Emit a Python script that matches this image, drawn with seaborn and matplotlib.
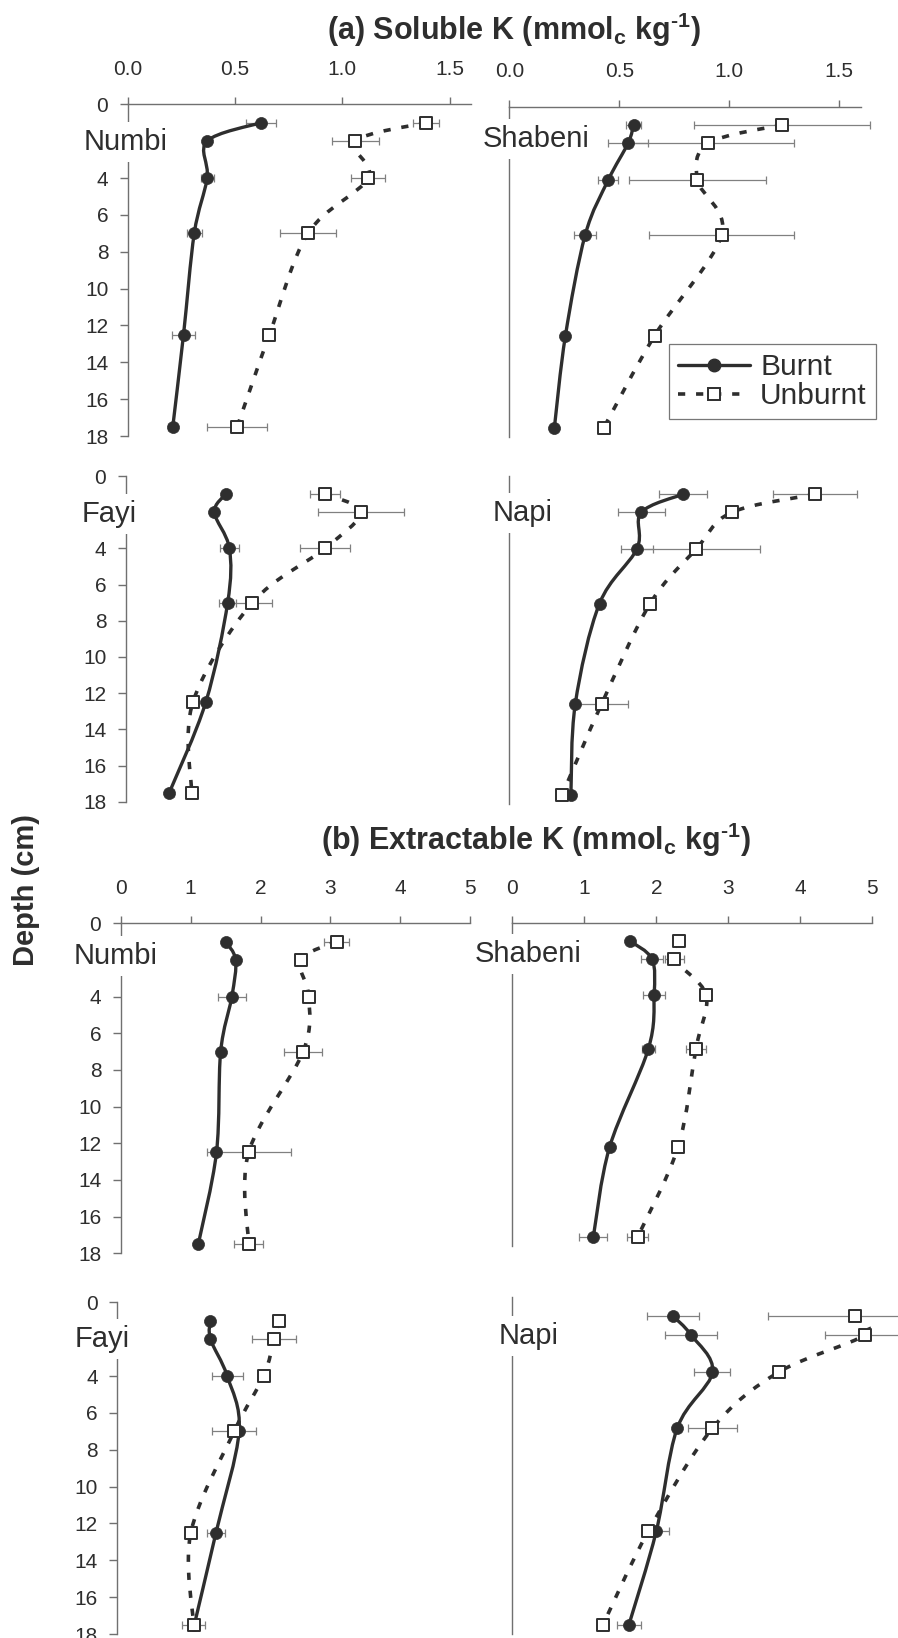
import numpy as np
import matplotlib
matplotlib.use("Agg")
import matplotlib.pyplot as plt
from matplotlib.path import Path
from matplotlib.patches import PathPatch
from matplotlib.lines import Line2D
import seaborn as sns

# ---------------------------------------------------------------- data
depth = [1, 2, 4, 7, 12.5, 17.5]
depth_ticks = [0, 2, 4, 6, 8, 10, 12, 14, 16, 18]
depth_ticklabels = ["0", "", "4", "6", "8", "10", "12", "14", "16", "18"]
sol_ticks = [0.0, 0.5, 1.0, 1.5]
ext_ticks = [0, 1, 2, 3, 4, 5]
series_names = ["Burnt", "Unburnt"]

# (a) soluble K, mmolc/kg : means and standard errors
sol_numbi_burnt = [0.62, 0.37, 0.37, 0.31, 0.26, 0.21]
sol_numbi_burnt_se = [0.07, 0.0, 0.03, 0.035, 0.055, 0.02]
sol_numbi_unburnt = [1.39, 1.06, 1.12, 0.84, 0.66, 0.51]
sol_numbi_unburnt_se = [0.06, 0.11, 0.08, 0.13, 0.02, 0.14]

sol_shabeni_burnt = [0.565, 0.54, 0.45, 0.345, 0.255, 0.205]
sol_shabeni_burnt_se = [0.035, 0.09, 0.045, 0.05, 0.0, 0.0]
sol_shabeni_unburnt = [1.24, 0.905, 0.855, 0.965, 0.66, 0.43]
sol_shabeni_unburnt_se = [0.40, 0.39, 0.31, 0.33, 0.02, 0.0]

sol_fayi_burnt = [0.467, 0.413, 0.483, 0.475, 0.373, 0.203]
sol_fayi_burnt_se = [0.0, 0.0, 0.043, 0.04, 0.015, 0.02]
sol_fayi_unburnt = [0.928, 1.095, 0.928, 0.59, 0.313, 0.307]
sol_fayi_unburnt_se = [0.07, 0.20, 0.117, 0.091, 0.0, 0.0]

sol_napi_burnt = [0.79, 0.60, 0.58, 0.41, 0.30, 0.28]
sol_napi_burnt_se = [0.11, 0.107, 0.072, 0.01, 0.01, 0.0]
sol_napi_unburnt = [1.39, 1.01, 0.85, 0.64, 0.42, 0.24]
sol_napi_unburnt_se = [0.19, 0.01, 0.29, 0.01, 0.12, 0.01]

# (b) extractable K, mmolc/kg
ext_numbi_burnt = [1.50, 1.645, 1.59, 1.43, 1.37, 1.11]
ext_numbi_burnt_se = [0.0, 0.0, 0.20, 0.03, 0.0, 0.0]
ext_numbi_unburnt = [3.09, 2.575, 2.69, 2.61, 1.83, 1.83]
ext_numbi_unburnt_se = [0.18, 0.06, 0.0, 0.27, 0.60, 0.21]

ext_shabeni_burnt = [1.64, 1.94, 1.97, 1.89, 1.35, 1.125]
ext_shabeni_burnt_se = [0.0, 0.157, 0.15, 0.093, 0.0, 0.197]
ext_shabeni_unburnt = [2.32, 2.25, 2.69, 2.55, 2.30, 1.74]
ext_shabeni_unburnt_se = [0.02, 0.13, 0.03, 0.144, 0.02, 0.15]

ext_fayi_burnt = [1.33, 1.33, 1.57, 1.74, 1.41, 1.10]
ext_fayi_burnt_se = [0.0, 0.0, 0.22, 0.0, 0.13, 0.0]
ext_fayi_unburnt = [2.31, 2.24, 2.09, 1.67, 1.05, 1.09]
ext_fayi_unburnt_se = [0.0, 0.31, 0.0, 0.31, 0.02, 0.16]

ext_napi_burnt = [2.23, 2.48, 2.78, 2.29, 2.00, 1.62]
ext_napi_burnt_se = [0.36, 0.36, 0.25, 0.05, 0.17, 0.17]
ext_napi_unburnt = [4.76, 4.90, 3.70, 2.78, 1.89, 1.26]
ext_napi_unburnt_se = [1.21, 0.56, 0.0, 0.34, 0.0, 0.0]

# ---------------------------------------------------------------- style
sns.set_theme(style="white")
plt.rcParams["font.family"] = ["Liberation Sans", "DejaVu Sans"]
plt.rcParams["mathtext.fontset"] = "custom"
plt.rcParams["mathtext.rm"] = "Liberation Sans:bold"
plt.rcParams["mathtext.it"] = "Liberation Sans:bold"
plt.rcParams["mathtext.bf"] = "Liberation Sans:bold"

INK = "#2e2e2e"
AXIS = "#707070"
ERR = "#808080"
DASH = (0, (2.0, 3.0))
W, H = 898, 1638

fig = plt.figure(figsize=(W / 100, H / 100), dpi=100)
fig.patch.set_facecolor("white")


def smooth_path(x, y):
    """Smoothed (Catmull-Rom style Bezier) path through the points."""
    pts = np.column_stack([x, y]).astype(float)
    n = len(pts)
    verts = [pts[0]]
    codes = [Path.MOVETO]
    for i in range(n - 1):
        p0 = pts[i - 1] if i > 0 else pts[i]
        p1, p2 = pts[i], pts[i + 1]
        p3 = pts[i + 2] if i + 2 < n else pts[i + 1]
        verts += [p1 + (p2 - p0) / 6.0, p2 - (p3 - p1) / 6.0, p2]
        codes += [Path.CURVE4] * 3
    return Path(verts, codes)


def panel(rect, xmax, xticks, xfmt, top_axis, left_labels,
          burnt, burnt_se, unburnt, unburnt_se, site, site_xy):
    left, top, right, bottom = rect
    ax = fig.add_axes([left / W, 1 - bottom / H, (right - left) / W, (bottom - top) / H])
    ax.set_facecolor("none")
    ax.set_xlim(0, xmax)
    ax.set_ylim(18, 0)

    for s in ("right", "bottom"):
        ax.spines[s].set_visible(False)
    ax.spines["left"].set_color(AXIS)
    ax.spines["left"].set_linewidth(1.0)
    if top_axis:
        ax.spines["top"].set_color(AXIS)
        ax.spines["top"].set_linewidth(1.0)
        ax.xaxis.tick_top()
        ax.set_xticks(xticks)
        ax.set_xticklabels([xfmt.format(t) for t in xticks])
        ax.tick_params(axis="x", direction="out", length=5, width=1.0,
                       color=AXIS, pad=13.5, labelsize=15, labelcolor=INK,
                       top=True, bottom=False)
    else:
        ax.spines["top"].set_visible(False)
        ax.set_xticks([])
    if left_labels:
        ax.set_yticks(depth_ticks)
        ax.set_yticklabels(depth_ticklabels)
        ax.tick_params(axis="y", direction="out", length=6, width=1.0,
                       color=AXIS, pad=8, labelsize=15, labelcolor=INK, left=True)
    else:
        ax.set_yticks([])
    ax.set_xlabel("")
    ax.set_ylabel("")
    ax.grid(False)

    # error bars
    for vals, se in ((burnt, burnt_se), (unburnt, unburnt_se)):
        eb = ax.errorbar(vals, depth, xerr=se, fmt="none", ecolor=ERR,
                         elinewidth=0.9, capsize=3, capthick=0.9, zorder=2)
        for art in list(eb[1]) + list(eb[2]):
            art.set_clip_on(False)

    # smoothed profiles
    ax.add_patch(PathPatch(smooth_path(burnt, depth), fill=False, edgecolor=INK,
                           linewidth=2.4, zorder=3, capstyle="round"))
    ax.add_patch(PathPatch(smooth_path(unburnt, depth), fill=False, edgecolor=INK,
                           linewidth=2.6, linestyle=DASH, zorder=3))

    # markers
    sns.scatterplot(x=burnt, y=depth, ax=ax, marker="o", s=75, color=INK,
                    edgecolor=INK, linewidth=0.5, zorder=4, clip_on=False, legend=False)
    sns.scatterplot(x=unburnt, y=depth, ax=ax, marker="s", s=75, color="white",
                    edgecolor=INK, linewidth=1.4, zorder=5, clip_on=False, legend=False)

    fig.text(site_xy[0] / W, 1 - site_xy[1] / H, site, ha="center", va="baseline",
             fontsize=21, color=INK, zorder=10,
             bbox=dict(boxstyle="square,pad=0.2", fc="white", ec="none"))
    return ax


# (a) soluble K
panel((127.7, 104.3, 471.2, 436.0), 1.6, sol_ticks, "{:.1f}", True, True,
      sol_numbi_burnt, sol_numbi_burnt_se, sol_numbi_unburnt, sol_numbi_unburnt_se,
      "Numbi", (125.4, 150.0))
ax_leg = panel((509.3, 106.5, 861.3, 436.7), 1.6, sol_ticks, "{:.1f}", True, False,
               sol_shabeni_burnt, sol_shabeni_burnt_se, sol_shabeni_unburnt,
               sol_shabeni_unburnt_se, "Shabeni", (536.0, 146.7))
panel((125.7, 476.0, 469.2, 801.7), 1.6, sol_ticks, "{:.1f}", False, True,
      sol_fayi_burnt, sol_fayi_burnt_se, sol_fayi_unburnt, sol_fayi_unburnt_se,
      "Fayi", (109.0, 521.7))
panel((509.3, 476.0, 861.3, 804.0), 1.6, sol_ticks, "{:.1f}", False, False,
      sol_napi_burnt, sol_napi_burnt_se, sol_napi_unburnt, sol_napi_unburnt_se,
      "Napi", (522.5, 521.0))

# (b) extractable K
panel((120.7, 923.3, 470.2, 1253.3), 5.0, ext_ticks, "{:d}", True, True,
      ext_numbi_burnt, ext_numbi_burnt_se, ext_numbi_unburnt, ext_numbi_unburnt_se,
      "Numbi", (116.0, 964.0))
panel((512.3, 923.3, 872.3, 1246.0), 5.0, ext_ticks, "{:d}", True, False,
      ext_shabeni_burnt, ext_shabeni_burnt_se, ext_shabeni_unburnt,
      ext_shabeni_unburnt_se, "Shabeni", (528.0, 961.7))
panel((117.3, 1302.3, 467.3, 1634.0), 5.0, ext_ticks, "{:d}", False, True,
      ext_fayi_burnt, ext_fayi_burnt_se, ext_fayi_unburnt, ext_fayi_unburnt_se,
      "Fayi", (102.5, 1347.3))
panel((512.3, 1297.3, 872.3, 1634.0), 5.0, ext_ticks, "{:d}", False, False,
      ext_napi_burnt, ext_napi_burnt_se, ext_napi_unburnt, ext_napi_unburnt_se,
      "Napi", (529.0, 1344.0))

# legend
handles = [
    Line2D([], [], color=INK, lw=2.4, marker="o", ms=9, mfc=INK, mec=INK),
    Line2D([], [], color=INK, lw=2.6, linestyle=DASH, marker="s", ms=9,
           mfc="white", mec=INK, mew=1.4),
]
leg = ax_leg.legend(handles, series_names, loc="upper left",
                    bbox_to_anchor=(669 / W, 1 - 344 / H), bbox_transform=fig.transFigure,
                    borderaxespad=0, fontsize=21.5, handlelength=2.4, handletextpad=0.35,
                    labelspacing=0.05, borderpad=0.3, frameon=True, fancybox=False)
leg.get_frame().set_edgecolor("#555555")
leg.get_frame().set_linewidth(0.9)
for t in leg.get_texts():
    t.set_color(INK)

# titles
fig.text(514 / W, 1 - 30 / H, r"(a) Soluble K (mmol$_{c}$ kg$^{\text{-}1}$)",
         ha="center", va="center", fontsize=22, fontweight="bold", color=INK)
fig.text(536 / W, 1 - 840 / H, r"(b) Extractable K (mmol$_{c}$ kg$^{\text{-}1}$)",
         ha="center", va="center", fontsize=22, fontweight="bold", color=INK)
fig.text(26.5 / W, 1 - 890 / H, "Depth (cm)", rotation=90, ha="center", va="center",
         fontsize=21, fontweight="bold", color=INK)

fig.savefig("out.png", dpi=100, facecolor="white")
